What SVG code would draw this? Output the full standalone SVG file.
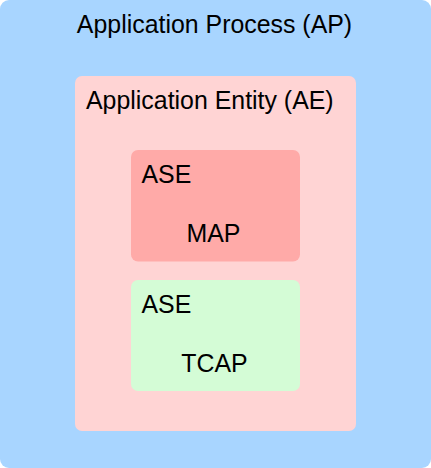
<svg xmlns="http://www.w3.org/2000/svg" width="431" height="468" viewBox="0 0 431 468">
<style>
text{font-family:"Liberation Sans",Arial,Helvetica,sans-serif;font-size:24.9px;fill:#000}
</style>
<g id="ap"><rect x="0" y="0" width="431" height="468" rx="9" fill="#a8d5ff"/><text x="214.5" y="33" text-anchor="middle">Application Process (AP)</text></g>
<g id="ae"><rect x="75" y="76" width="281" height="355" rx="7" fill="#ffd4d4"/><text x="86" y="108.5">Application Entity (AE)</text></g>
<g id="map"><rect x="131" y="150" width="169" height="111.5" rx="7" fill="#ffaaa8"/><text x="141.5" y="182.5">ASE</text><text x="213.5" y="242" text-anchor="middle">MAP</text></g>
<g id="tcap"><rect x="131" y="280" width="169" height="111" rx="7" fill="#d4fcd6"/><text x="141.5" y="312.5">ASE</text><text x="214.5" y="372" text-anchor="middle">TCAP</text></g>
<g id="connectors"/>
</svg>
